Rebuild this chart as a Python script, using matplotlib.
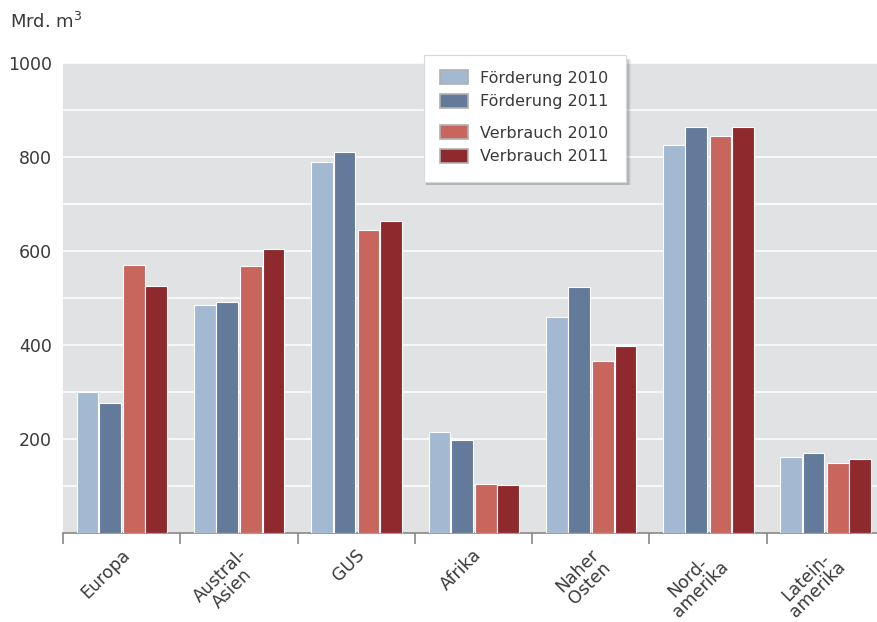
import numpy as np
import matplotlib
matplotlib.use('Agg')
import matplotlib.pyplot as plt
from matplotlib.patches import Patch, FancyBboxPatch
from matplotlib.transforms import ScaledTranslation

regions = ['Europa', 'Austral-\nAsien', 'GUS', 'Afrika', 'Naher\nOsten', 'Nord-\namerika', 'Latein-\namerika']
foerderung_2010 = [300, 485, 789, 215, 460, 826, 162]
foerderung_2011 = [277, 491, 811, 198, 523, 864, 170]
verbrauch_2010 = [570, 568, 645, 104, 366, 845, 149]
verbrauch_2011 = [526, 604, 664, 102, 398, 864, 157]

series = [
    ('Förderung 2010', foerderung_2010, '#a3b9d2'),
    ('Förderung 2011', foerderung_2011, '#647a9a'),
    ('Verbrauch 2010', verbrauch_2010, '#c8665e'),
    ('Verbrauch 2011', verbrauch_2011, '#8e2a2e'),
]
offsets = [-0.29, -0.10, 0.105, 0.295]
text_color = '#3a3a3a'

plt.rcParams['font.family'] = ['DejaVu Sans']

W, H = 877, 622
fig = plt.figure(figsize=(W / 100, H / 100), dpi=100)
ax = fig.add_axes([63 / W, (H - 533) / H, (884 - 63) / W, (533 - 63) / H])
ax.set_facecolor('#e1e2e4')

x = np.arange(len(regions)) + 0.5
handles = []
for (label, vals, col), off in zip(series, offsets):
    ax.bar(x + off, vals, width=0.185, color=col, edgecolor='white', linewidth=0.8, zorder=3)
    handles.append(Patch(facecolor=col, edgecolor='#b0b0b0', linewidth=1.2, label=label))

ax.set_xlim(0, len(regions))
ax.set_ylim(0, 1000)
ax.set_yticks(np.arange(200, 1001, 200))
ax.set_yticks(np.arange(100, 1000, 100), minor=True)
ax.grid(True, which='both', axis='y', color='white', linewidth=1.1, zorder=1)
ax.tick_params(axis='y', which='both', length=0, labelsize=12.5, labelcolor=text_color, pad=8)

ax.set_xticks(np.arange(len(regions) + 1), minor=True)
ax.set_xticks(x)
ax.set_xticklabels(regions, rotation=45, ha='right', va='top', rotation_mode='anchor',
                   multialignment='center', fontsize=12.5, color=text_color, linespacing=0.95)
ax.tick_params(axis='x', which='major', length=0, pad=9)
ax.tick_params(axis='x', which='minor', length=8, color='#888888', width=1.2, direction='out')
for lbl in ax.get_xticklabels():
    lbl.set_transform(lbl.get_transform() + ScaledTranslation(-1 / 100, 0, fig.dpi_scale_trans))

for s in ['left', 'right', 'top']:
    ax.spines[s].set_visible(False)
ax.spines['bottom'].set_color('#888888')
ax.spines['bottom'].set_linewidth(1.2)

fig.text(10 / W, 1 - 22 / H, r'Mrd. m$^3$', fontsize=13, color=text_color, va='center', ha='left')

# legend frame with shadow
fx, fy, fw, fh = 424 / W, 1 - 182 / H, (626 - 424) / W, (182 - 55) / H
for i, a in enumerate([0.05, 0.07, 0.09]):
    d = (3 - i) / W
    fig.patches.append(FancyBboxPatch((fx + 2 / W, fy - 3 / H), fw + d, fh - d, boxstyle='square,pad=0',
                                      transform=fig.transFigure, facecolor='black', alpha=a,
                                      edgecolor='none', zorder=5))
fig.patches.append(FancyBboxPatch((fx, fy), fw, fh, boxstyle='square,pad=0', transform=fig.transFigure,
                                  facecolor='white', edgecolor='#d8d8d8', linewidth=0.8, zorder=6))

leg_kw = dict(frameon=False, fontsize=11.5, handlelength=1.75, handleheight=1.0, handletextpad=0.75,
              labelspacing=0.5, borderpad=0, borderaxespad=0, labelcolor=text_color)
leg1 = fig.legend(handles=handles[:2], loc='upper left', bbox_to_anchor=(440 / W, 1 - 70 / H), **leg_kw)
leg2 = fig.legend(handles=handles[2:], loc='upper left', bbox_to_anchor=(440 / W, 1 - 125 / H), **leg_kw)
leg1.set_zorder(7)
leg2.set_zorder(7)

fig.savefig('out.png', dpi=100)
